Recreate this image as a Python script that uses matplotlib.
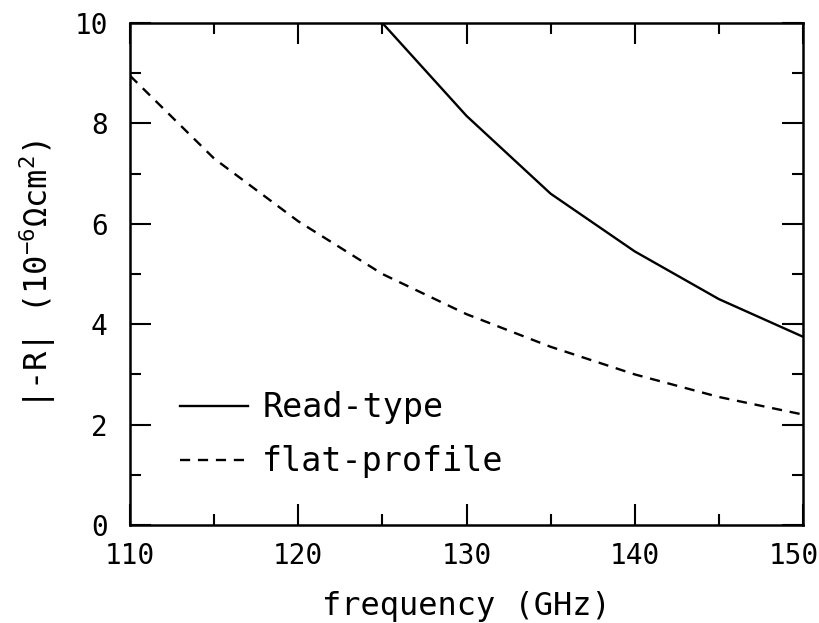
import matplotlib
matplotlib.use("Agg")
import matplotlib.pyplot as plt
import matplotlib.transforms as mtransforms
from matplotlib.ticker import MultipleLocator

plt.rcParams['font.family'] = ['DejaVu Sans Mono', 'DejaVu Sans']
plt.rcParams['mathtext.fontset'] = 'custom'
plt.rcParams['mathtext.rm'] = 'DejaVu Sans Mono'
plt.rcParams['mathtext.it'] = 'DejaVu Sans Mono'

# Data
freq_read = [125, 130, 135, 140, 145, 150]
read_type = [10.0, 8.15, 6.6, 5.45, 4.5, 3.75]

freq_flat = [110, 115, 120, 125, 130, 135, 140, 145, 150]
flat_profile = [8.95, 7.3, 6.05, 5.0, 4.2, 3.55, 3.0, 2.55, 2.2]

x_ticks = [110, 120, 130, 140, 150]
y_ticks = [0, 2, 4, 6, 8, 10]
series_labels = ["Read-type", "flat-profile"]
xlabel = "frequency (GHz)"
ylabel = r"|-R| (10$^{-6}$$\Omega$cm$^{2}$)"

fig = plt.figure(figsize=(8.19, 6.23), dpi=100)
ax = fig.add_axes([130/819, 1-525/623, (803-130)/819, (525-23)/623])

ax.plot(freq_read, read_type, color='black', lw=1.7, solid_joinstyle='miter',
        label=series_labels[0])
ax.plot(freq_flat, flat_profile, color='black', lw=1.7, dashes=(4.3, 3.3),
        label=series_labels[1])

ax.set_xlim(110, 150)
ax.set_ylim(0, 10)
ax.set_xticks(x_ticks)
ax.set_yticks(y_ticks)
ax.xaxis.set_minor_locator(MultipleLocator(5))
ax.yaxis.set_minor_locator(MultipleLocator(1))

ax.tick_params(which='both', direction='in', top=True, right=True, width=1.5,
               colors='black')
ax.tick_params(which='major', length=15, labelsize=20)
ax.tick_params(axis='x', which='major', pad=12)
ax.tick_params(axis='y', which='major', pad=16)
ax.tick_params(which='minor', length=8)
for s in ax.spines.values():
    s.set_linewidth(1.8)

ax.set_xlabel(xlabel, fontsize=23, labelpad=15)
ax.set_ylabel(ylabel, fontsize=23, labelpad=12)

leg = ax.legend(loc='upper left', bbox_to_anchor=(0.055, 0.293), frameon=False,
                fontsize=24, handlelength=2.04, handletextpad=0.42,
                labelspacing=0.63, borderaxespad=0)

# nudge the last x tick label inward so it stays inside the figure
fig.canvas.draw()
last = ax.xaxis.get_major_ticks()[len(x_ticks) - 1].label1
last.set_transform(last.get_transform() +
                   mtransforms.ScaledTranslation(-0.09, 0, fig.dpi_scale_trans))

fig.savefig("out.png", dpi=100)
